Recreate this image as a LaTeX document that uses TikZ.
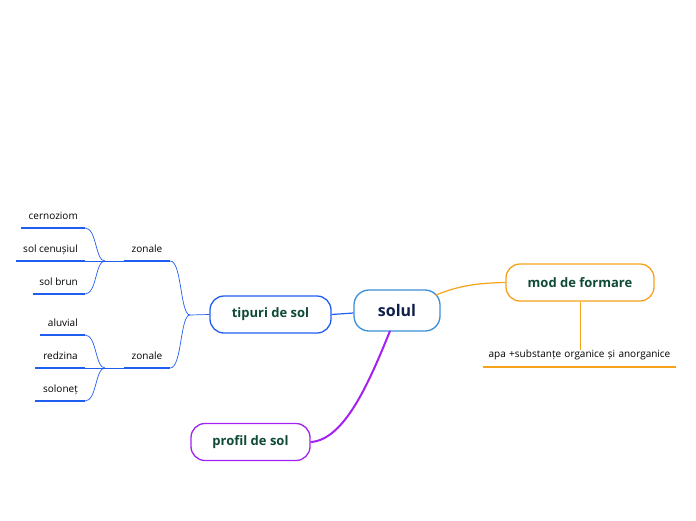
\documentclass[tikz,border=0pt]{standalone}
\usepackage{fontspec}
\setmainfont{Open Sans}
\definecolor{lblue}{HTML}{1F5EF0}
\definecolor{cblue}{HTML}{3A8FD6}
\definecolor{orng}{HTML}{F7A21B}
\definecolor{purp}{HTML}{A321F2}
\definecolor{dgreen}{HTML}{0E4A36}
\definecolor{navy}{HTML}{0F1E4A}
\tikzset{
  mainbox/.style={draw=cblue, line width=1.3pt, rounded corners=15pt, fill=white, minimum width=86pt, minimum height=41pt, font=\bfseries\fontsize{16}{18}\selectfont, text=navy},
  topicbox/.style={line width=1.3pt, rounded corners=14pt, fill=white, minimum height=37pt, font=\bfseries\fontsize{13}{15}\selectfont, text=dgreen},
  leaf/.style={inner xsep=7pt, inner ysep=0pt, text depth=8pt, anchor=south east, font=\fontsize{10}{12}\selectfont, text=black,
    append after command={(\tikzlastnode.south east) edge[leafbar] ++(-#1,0)}},
  mid/.style={inner xsep=0pt, inner ysep=0pt, text depth=8pt, align=center, anchor=south, font=\fontsize{10}{12}\selectfont, text=black,
    append after command={(\tikzlastnode.south west) edge[leafbar] (\tikzlastnode.south east)}},
  leafbar/.style={draw=lblue, line width=2.2pt},
  thin/.style={draw=lblue, line width=0.7pt},
}
\begin{document}
\begin{tikzpicture}[x=1pt,y=-1pt]
\useasboundingbox (0,0) rectangle (696,520);
% main nodes
\node[mainbox] (solul) at (397,310.5) {solul};
\node[topicbox, draw=lblue, minimum width=121pt] (tip) at (270.5,314.5) {tipuri de sol};
\node[topicbox, draw=orng, minimum width=148pt] (mod) at (580,282.5) {mod de formare};
\node[topicbox, draw=purp, minimum width=119pt] (prof) at (250.5,442) {profil de sol};
% apa
\node[mid, text width=193pt, anchor=south, text depth=9pt, append after command={(\tikzlastnode.south west) edge[draw=orng, line width=2.2pt] (\tikzlastnode.south east)}] (apa) at (579.5,367) {apa +substanțe organice și anorganice};
% zonale
\node[mid, minimum width=46pt, text width=46pt] (z1) at (147,261) {zonale};
\node[mid, minimum width=46pt, text width=46pt] (z2) at (147,368) {zonale};
% leaves
\node[leaf=64] (cer) at (85,228) {cernoziom};
\node[leaf=69] (cen) at (85,261) {sol cenușiul};
\node[leaf=52] (brun) at (85,294) {sol brun};
\node[leaf=45] (alu) at (85,335) {aluvial};
\node[leaf=50] (red) at (85,368) {redzina};
\node[leaf=50] (sol) at (85,401) {soloneț};
% junction coordinates
\coordinate (jt) at (190,315);
\coordinate (j1) at (105,261);
\coordinate (j2) at (105,368);
% connectors
\draw[draw=lblue, line width=1.2pt] (tip.east) -- (solul.west |- 0,313);
\draw[draw=orng, line width=1.2pt] (436,295) .. controls (460,285) and (480,283) .. (mod.west);
\draw[draw=purp, line width=2pt] (390,331) .. controls (370,380) and (345,440) .. (prof.east);
\draw[draw=orng, line width=0.6pt] (mod.south) -- (apa.north -| mod.south);
\draw[thin] (tip.west) -- (jt);
\draw[thin] (jt) .. controls (180,315) and (182,261) .. (z1.south east);
\draw[thin] (jt) .. controls (180,315) and (182,368) .. (z2.south east);
\draw[thin] (z1.south west) -- (j1);
\draw[thin] (z2.south west) -- (j2);
\draw[thin] (j1) .. controls (95,261) and (97,228) .. (cer.south east);
\draw[thin] (j1) -- (cen.south east);
\draw[thin] (j1) .. controls (95,261) and (97,294) .. (brun.south east);
\draw[thin] (j2) .. controls (95,368) and (97,335) .. (alu.south east);
\draw[thin] (j2) -- (red.south east);
\draw[thin] (j2) .. controls (95,368) and (97,401) .. (sol.south east);
\end{tikzpicture}
\end{document}
